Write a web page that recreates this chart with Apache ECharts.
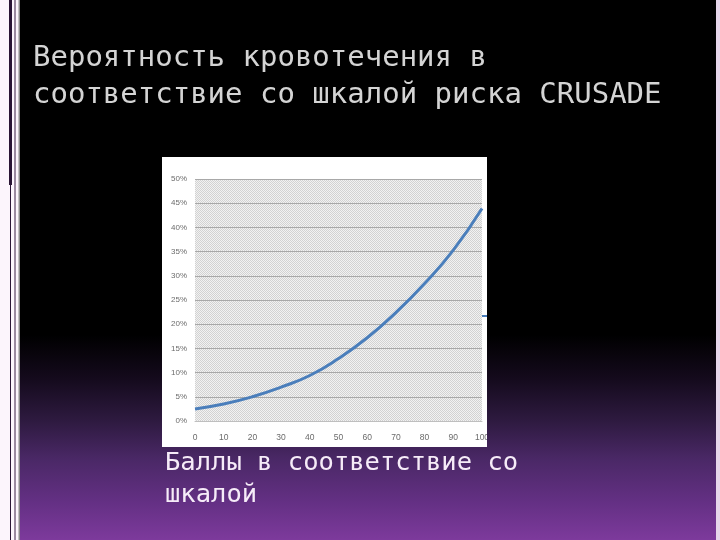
<!DOCTYPE html>
<html>
<head>
<meta charset="utf-8">
<script src="https://cdn.jsdelivr.net/npm/echarts@6/dist/echarts.min.js"></script>
<style>
html,body{margin:0;padding:0;background:#000;}
#c{width:720px;height:540px;}
</style>
</head>
<body>
<div id="c"></div>
<script>
// Data
const titleText = 'Вероятность кровотечения в\nсоответствие со шкалой риска CRUSADE';
const xAxisName = 'Баллы в соответствие со\nшкалой';
const scores = [0, 10, 20, 30, 40, 50, 60, 70, 80, 90, 100];
const bleedingRisk = [2.5, 3.5, 5.0, 7.0, 9.4, 12.9, 17.2, 22.4, 28.4, 35.3, 43.9];
const yTicks = [0, 5, 10, 15, 20, 25, 30, 35, 40, 45, 50];

const chart = echarts.init(document.getElementById('c'), null, {renderer: 'canvas'});

// dotted plot-area texture
const pc = document.createElement('canvas');
pc.width = 2; pc.height = 2;
const pctx = pc.getContext('2d');
pctx.fillStyle = '#f2f2f2'; pctx.fillRect(0, 0, 2, 2);
pctx.fillStyle = '#d2d2d2'; pctx.fillRect(0, 0, 1, 1); pctx.fillRect(1, 1, 1, 1);

const bgStops = [
  {offset: 0, color: '#000000'},
  {offset: 0.62, color: '#000000'},
  {offset: 0.70, color: '#140a1c'},
  {offset: 0.78, color: '#2e1a40'},
  {offset: 0.85, color: '#4a2866'},
  {offset: 0.93, color: '#643084'},
  {offset: 1, color: '#7d3a9c'}
];

chart.setOption({
  backgroundColor: {type: 'linear', x: 0, y: 0, x2: 0, y2: 1, colorStops: bgStops},
  animation: false,
  title: [
    {
      text: titleText,
      left: 33, top: 40, padding: 0,
      textStyle: {fontFamily: 'DejaVu Sans Mono', fontSize: 29, fontWeight: 'normal', color: '#d4d4d4', lineHeight: 37}
    },
    {
      text: xAxisName,
      left: 165, top: 447, padding: 0,
      textStyle: {fontFamily: 'DejaVu Sans Mono', fontSize: 25.5, fontWeight: 'normal', color: '#f6ecf8', lineHeight: 32}
    }
  ],
  graphic: [
    {type: 'rect', z: 1, shape: {x: 0, y: 0, width: 20, height: 540}, style: {fill: '#fcf5fc'}},
    {type: 'rect', z: 2, shape: {x: 9, y: 0, width: 3, height: 185}, style: {fill: '#2a1535'}},
    {type: 'rect', z: 2, shape: {x: 10, y: 185, width: 1, height: 355}, style: {fill: '#2a1535'}},
    {type: 'rect', z: 2, shape: {x: 14.5, y: 0, width: 1, height: 540}, style: {fill: '#3a2045'}},
    {type: 'rect', z: 2, shape: {x: 18.5, y: 0, width: 1.5, height: 540}, style: {fill: '#8a8a8a'}},
    {type: 'rect', z: 1, shape: {x: 716, y: 0, width: 4, height: 540}, style: {fill: '#e6d6ea'}},
    {type: 'rect', z: -5, shape: {x: 162, y: 157, width: 325, height: 290}, style: {fill: '#ffffff'}},
    {type: 'rect', z: 100, shape: {x: 487, y: 425, width: 20, height: 22},
      style: {fill: {type: 'linear', x: 0, y: 0, x2: 0, y2: 540, global: true, colorStops: bgStops}}},
    {type: 'line', z: 100, shape: {x1: 482, y1: 316, x2: 487, y2: 316}, style: {stroke: '#4a7ebb', lineWidth: 2}}
  ],
  grid: {
    left: 195, right: 238, top: 179, bottom: 119,
    show: true,
    backgroundColor: {image: pc, repeat: 'repeat'},
    borderWidth: 0
  },
  xAxis: {
    type: 'value', min: 0, max: 100, interval: 10,
    axisLine: {show: true, lineStyle: {color: '#bfbfbf', width: 1}},
    axisTick: {show: false},
    splitLine: {show: false},
    axisLabel: {color: '#6b6b6b', fontSize: 8.5, fontFamily: 'Liberation Sans', margin: 12}
  },
  yAxis: {
    type: 'value', min: 0, max: 50, interval: 5,
    axisLine: {show: false},
    axisTick: {show: false},
    splitLine: {show: true, lineStyle: {color: '#a8a8a8', width: 1}},
    axisLabel: {color: '#6b6b6b', fontSize: 8, fontFamily: 'Liberation Sans', margin: 8,
      formatter: v => yTicks.includes(v) ? v + '%' : ''}
  },
  series: [{
    type: 'line',
    data: scores.map((s, i) => [s, bleedingRisk[i]]),
    smooth: true,
    showSymbol: false,
    lineStyle: {color: '#4a7ebb', width: 3}
  }]
});
</script>
</body>
</html>
